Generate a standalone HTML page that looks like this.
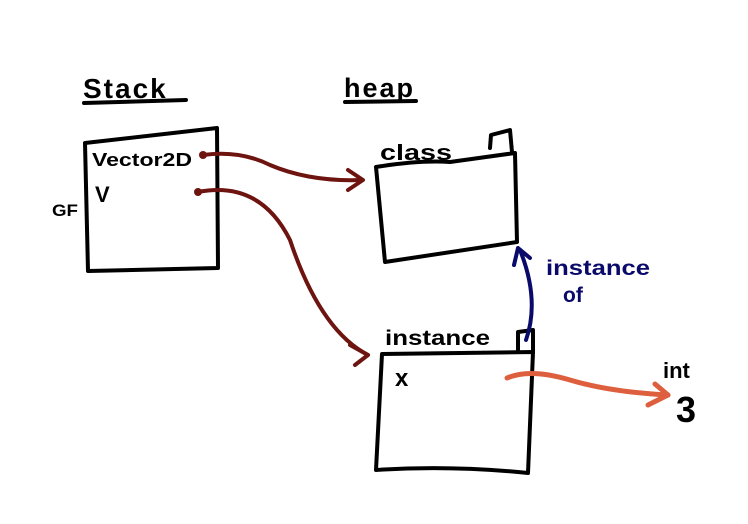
<!DOCTYPE html>
<html><head><meta charset="utf-8"><style>
html,body{margin:0;padding:0;background:#fff;width:748px;height:524px;overflow:hidden}
text{font-family:"Liberation Sans",sans-serif;font-weight:bold}
</style></head><body>
<svg width="748" height="524" viewBox="0 0 748 524" xmlns="http://www.w3.org/2000/svg">
<g fill="none" stroke="#000" stroke-width="4" stroke-linecap="round" stroke-linejoin="round">
<path d="M85,143 L217,128 L218,268 L88,271 Z"/>
<path d="M84,103 L186,100"/>
<path d="M345,102 L416,101"/>
<path d="M376,167 Q420,160 450,162 L515,153 L517,242 L385,262 Z"/>
<path d="M490,148 L491,135 L510,130 L512,152"/>
<path d="M382,354 L533,352 L528,473 Q450,465 376,470 Z"/>
<path d="M518,352 L518,332 L533,330 L533,352"/>
</g>
<text x="83" y="98" font-size="28" letter-spacing="2">Stack</text>
<text x="344" y="97" font-size="27" letter-spacing="2">heap</text>
<text x="92" y="166" font-size="18" textLength="100" lengthAdjust="spacingAndGlyphs">Vector2D</text>
<text x="95" y="202" font-size="22">V</text>
<text x="52" y="216" font-size="17" textLength="26" lengthAdjust="spacingAndGlyphs">GF</text>
<text x="380" y="160" font-size="22" textLength="72" lengthAdjust="spacingAndGlyphs">class</text>
<text x="385" y="345" font-size="21" textLength="105" lengthAdjust="spacingAndGlyphs">instance</text>
<text x="395" y="386" font-size="24">x</text>
<text x="663" y="378" font-size="22">int</text>
<text x="676" y="422" font-size="36" font-weight="normal">3</text>
<text x="546" y="275" font-size="21" fill="#0a0a6a" textLength="104" lengthAdjust="spacingAndGlyphs">instance</text>
<text x="563" y="302" font-size="21" fill="#0a0a6a">of</text>
<g fill="none" stroke="#6e1410" stroke-width="4" stroke-linecap="round" stroke-linejoin="round">
<path d="M203,155 Q240,150 270,165 Q310,182 362,180"/>
<path d="M348,170 L363,180 L348,190"/>
<path d="M198,192 Q260,180 290,240 Q320,330 368,355"/>
<path d="M350,345 L368,355 L355,365"/>
</g>
<circle cx="203" cy="155" r="4" fill="#6e1410"/>
<circle cx="198" cy="192" r="4" fill="#6e1410"/>
<g fill="none" stroke="#0a0a6a" stroke-width="4" stroke-linecap="round" stroke-linejoin="round">
<path d="M526,340 Q540,300 520,250"/>
<path d="M514,265 L518,248 L530,258"/>
</g>
<g fill="none" stroke="#dd5f3e" stroke-width="5" stroke-linecap="round" stroke-linejoin="round">
<path d="M507,378 Q530,368 570,380 Q610,392 668,395"/>
<path d="M655,384 L668,395 L648,405"/>
</g>
</svg>
</body></html>
